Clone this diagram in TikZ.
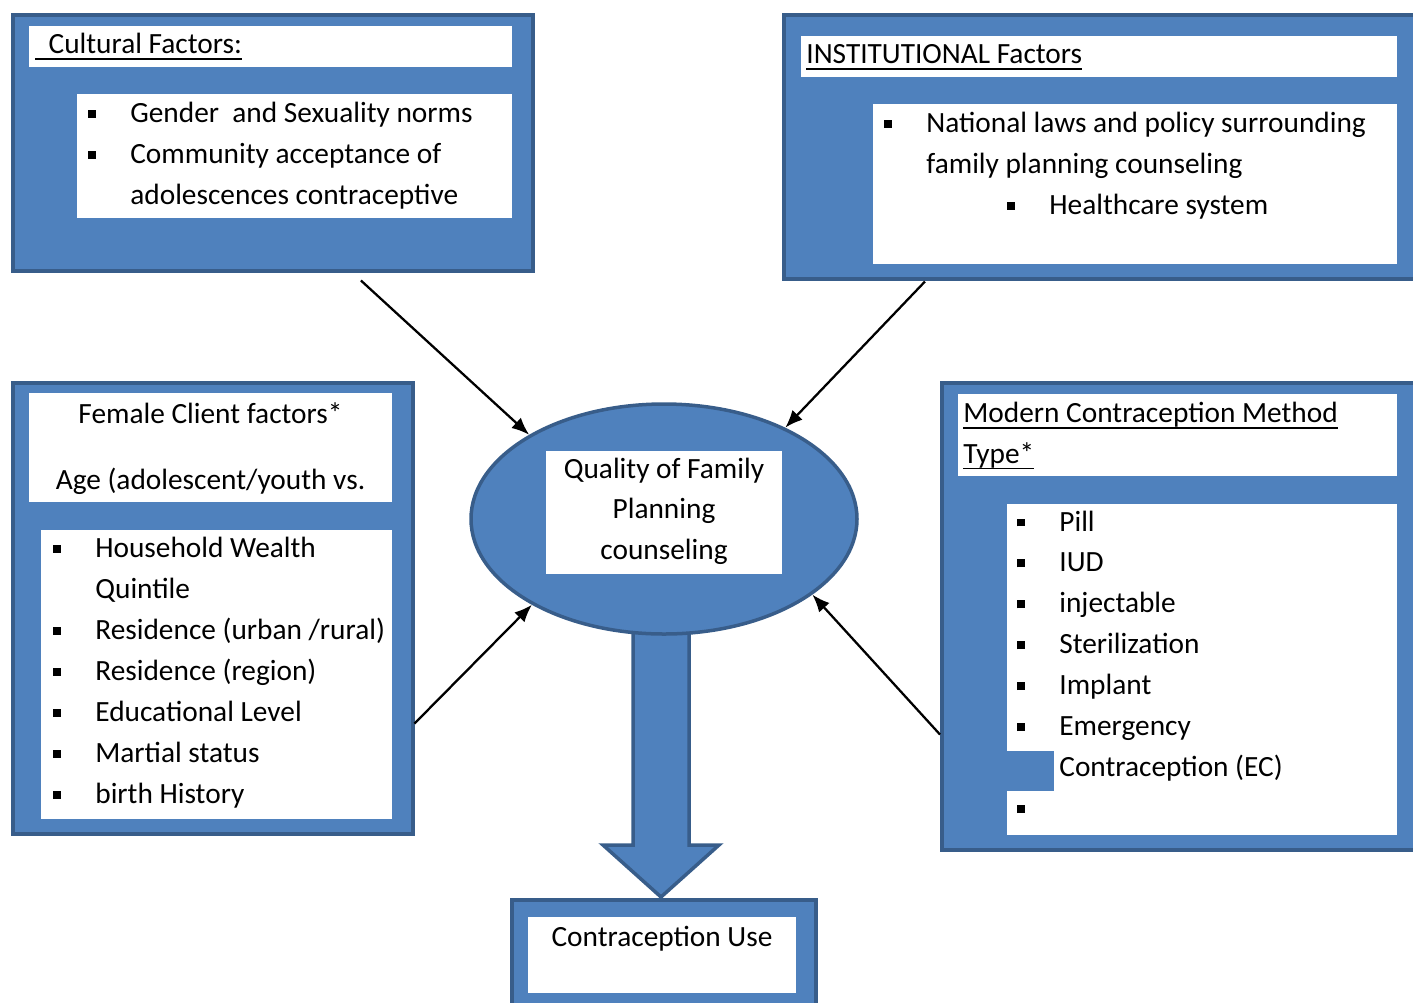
\documentclass[tikz,border=0pt]{standalone}
\usepackage{fontspec}
\setmainfont{Carlito}
\usetikzlibrary{positioning,shapes.geometric,arrows.meta}

\newlength{\pxu}
\setlength{\pxu}{0.02cm}
\newlength{\ulwd}
\definecolor{boxblue}{RGB}{79,129,189}
\definecolor{edgeblue}{RGB}{56,93,138}
\newcommand{\bul}{\rule[2.6pt]{4.5pt}{4.5pt}}
\newcommand{\itm}[1]{\strut\makebox[42\pxu][l]{\bul}#1}
\newcommand{\cnt}[1]{\strut\hspace*{42\pxu}#1}
\newcommand{\uln}[1]{\settowidth{\ulwd}{#1}\rlap{\rule[-3.6pt]{\ulwd}{1pt}}#1}

\begin{document}
\begin{tikzpicture}[x=0.02cm, y=-0.02cm,
        panel/.style={draw=edgeblue, fill=boxblue, line width=3.5\pxu, inner sep=0pt, anchor=north west},
        sheet/.style={fill=white, inner sep=0pt, anchor=north west},
        txt/.style={font=\fontsize{16.7pt}{23.3pt}\selectfont, inner sep=0pt, align=left, anchor=north west},
        conn/.style={draw, line width=1.3pt, -{Latex[length=10pt, width=8pt]}}
    ]
    \useasboundingbox (0,0) rectangle (1413,1002);

    % Top left: cultural factors
    \node[panel, minimum width=520\pxu, minimum height=256\pxu] (cult) at (11,13) {};
    \node[sheet, minimum width=483\pxu, minimum height=41\pxu] (cultT) at (29,26) {};
    \node[sheet, minimum width=435\pxu, minimum height=124\pxu] (cultI) at (77,94) {};
    \node[txt] (cultTtxt) at (35,24.2) {\strut\uln{\ \ Cultural Factors:}};
    \node[txt] (cultItxt) at (88,93.2) {\itm{Gender\ \ and Sexuality norms}\\ \itm{Community acceptance of}\\ \cnt{adolescences contraceptive}};

    % Top right: institutional factors
    \node[panel, minimum width=643\pxu, minimum height=264\pxu] (inst) at (782,13) {};
    \node[sheet, minimum width=596\pxu, minimum height=41\pxu] (instT) at (801,36) {};
    \node[sheet, minimum width=524\pxu, minimum height=160\pxu] (instI) at (873,104) {};
    \node[txt] (instTtxt) at (806,34.2) {\strut\uln{INSTITUTIONAL Factors}};
    \node[txt] (instItxt) at (884,103.2) {\itm{National laws and policy surrounding}\\ \cnt{family planning counseling}\\ \strut\hspace*{123\pxu}\itm{Healthcare system}};

    % Left: female client factors
    \node[panel, minimum width=400\pxu, minimum height=451\pxu] (fem) at (11,381) {};
    \node[sheet, minimum width=363\pxu, minimum height=109\pxu] (femT) at (29,393) {};
    \node[sheet, minimum width=351\pxu, minimum height=289\pxu] (femI) at (41,530) {};
    \node[txt, align=center, anchor=north] (femTtxt) at (210.5,394) {\strut Female Client factors*\\[26\pxu] \strut Age (adolescent/youth vs.};
    \node[txt] (femItxt) at (53,528.5) {\itm{Household Wealth}\\ \cnt{Quintile}\\ \itm{Residence (urban /rural)}\\ \itm{Residence (region)}\\ \itm{Educational Level}\\ \itm{Martial status}\\ \itm{birth History}};

    % Right: method type
    \node[panel, minimum width=485\pxu, minimum height=467\pxu] (mod) at (940,381) {};
    \node[sheet, minimum width=439\pxu, minimum height=82\pxu] (modT) at (958,394) {};
    \node[sheet, minimum width=390\pxu, minimum height=331\pxu] (modI) at (1007,504) {};
    \fill[boxblue] (1007,751) rectangle (1054,791);
    \node[txt] (modTtxt) at (963,393.2) {\strut\uln{Modern Contraception Method}\\ \strut\uln{Type*}};
    \node[txt] (modItxt) at (1017,502) {\itm{Pill}\\ \itm{IUD}\\ \itm{injectable}\\ \itm{Sterilization}\\ \itm{Implant}\\ \itm{Emergency}\\ \cnt{Contraception (EC)}\\ \itm{}};

    % Bottom: outcome
    \node[panel, minimum width=304\pxu, minimum height=112\pxu] (use) at (510,898) {};
    \node[sheet, minimum width=268\pxu, minimum height=76\pxu] (useI) at (528,917) {};
    \node[txt, anchor=north] (usetxt) at (662,917.2) {\strut Contraception Use};

    % Block arrow to outcome
    \draw[draw=edgeblue, fill=boxblue, line width=3.5\pxu] (633,600) -- (633,845) -- (603,845) -- (661,897)
        -- (719,845) -- (689,845) -- (689,600) -- cycle;

    % Centre: counseling quality
    \node[ellipse, draw=edgeblue, fill=boxblue, line width=3.5\pxu, minimum width=386\pxu, minimum height=230\pxu, inner sep=0pt] (qual) at (664,519) {};
    \node[sheet, anchor=center, minimum width=236\pxu, minimum height=123\pxu] (qualI) at (664,512.5) {};
    \node[txt, align=center, anchor=north] (qualtxt) at (664,449) {\strut Quality of Family\\ \strut Planning\\ \strut counseling};

    % Factors feeding in
    \draw[conn] ([xshift=7cm, yshift=-0.16cm]cult.south west) -- (qual.148);
    \draw[conn] ([xshift=2.86cm, yshift=-0.02cm]inst.south west) -- (qual.37);
    \draw[conn] ([yshift=2.24cm]fem.south east) -- (qual.213);
    \draw[conn] ([yshift=2.34cm]mod.south west) -- (qual.-27);

\end{tikzpicture}
\end{document}
